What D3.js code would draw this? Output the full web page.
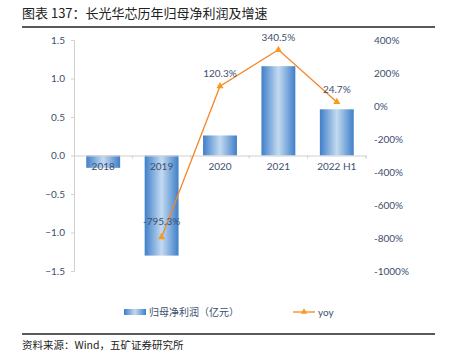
<!DOCTYPE html>
<html><head><meta charset="utf-8">
<script src="https://cdn.jsdelivr.net/npm/d3@7"></script>
<style>body{margin:0;background:#fff}svg{display:block}</style>
</head><body><svg id="c" width="449" height="356"></svg>
<script>
const categories = ["2018","2019","2020","2021","2022 H1"];
const profit = [-0.16,-1.30,0.26,1.16,0.60];
const yoy = [null,-795.3,120.3,340.5,24.7];
const leftTicks = [-1.5,-1.0,-0.5,0.0,0.5,1.0,1.5];
const rightTicks = [-1000,-800,-600,-400,-200,0,200,400];

const svg = d3.select("#c");
const font = "Lato, 'Open Sans', sans-serif";
const txt = "#3d4f6e";
const M = {l:74, r:366, t:40, b:271};

svg.append("text").attr("x",22).attr("y",18).attr("font-family","'Noto Sans CJK SC', sans-serif")
  .attr("font-size",13).attr("fill","#222").text("图表 137：长光华芯历年归母净利润及增速");
svg.append("line").attr("x1",22).attr("x2",435).attr("y1",27).attr("y2",27).attr("stroke","#222").attr("stroke-width",1.3);
svg.append("line").attr("x1",22).attr("x2",435).attr("y1",334).attr("y2",334).attr("stroke","#222").attr("stroke-width",1.3);
svg.append("text").attr("x",22).attr("y",349).attr("font-family","'Noto Sans CJK SC', sans-serif")
  .attr("font-size",10.5).attr("fill","#222").text("资料来源：Wind，五矿证券研究所");

const defs = svg.append("defs");
const g = defs.append("linearGradient").attr("id","bg").attr("x1","0").attr("x2","1").attr("y1","0").attr("y2","0");
g.append("stop").attr("offset","0%").attr("stop-color","#3f7fca");
g.append("stop").attr("offset","50%").attr("stop-color","#c3daf0");
g.append("stop").attr("offset","100%").attr("stop-color","#3f7fca");

const x = d3.scaleBand().domain(categories).range([M.l,M.r]).paddingInner(0.42).paddingOuter(0.21);
const yL = d3.scaleLinear().domain([-1.5,1.5]).range([M.b,M.t]);
const yR = d3.scaleLinear().domain([-1000,400]).range([M.b,M.t]);

// left axis
const la = svg.append("g").attr("transform",`translate(${M.l},0)`)
  .call(d3.axisLeft(yL).tickValues(leftTicks).tickFormat(d3.format(".1f")).tickSize(3).tickPadding(6));
la.select(".domain").attr("stroke","#d0d0d0");
la.selectAll(".tick line").attr("stroke","#d0d0d0");
la.selectAll("text").attr("font-family",font).attr("font-size",10).attr("fill",txt);

// right axis labels (no line)
const ra = svg.append("g").attr("transform",`translate(${374},0)`)
  .call(d3.axisRight(yR).tickValues(rightTicks).tickFormat(d=>d+"%").tickSize(0).tickPadding(0));
ra.select(".domain").remove();
ra.selectAll("text").attr("font-family",font).attr("font-size",10).attr("fill",txt);

// bars
svg.append("g").selectAll("rect").data(categories).join("rect")
  .attr("x",d=>x(d)).attr("width",x.bandwidth())
  .attr("y",(d,i)=>yL(Math.max(0,profit[i])))
  .attr("height",(d,i)=>Math.abs(yL(profit[i])-yL(0)))
  .attr("fill","url(#bg)");

// zero axis
const za = svg.append("g").attr("transform",`translate(0,${yL(0)})`)
  .call(d3.axisBottom(x).tickSize(3).tickSizeOuter(3).tickFormat(""));
za.select(".domain").attr("stroke","#d0d0d0");
za.selectAll(".tick line").attr("stroke","#d0d0d0").attr("transform",`translate(${x.step()/2},0)`);
svg.append("g").selectAll("text").data(categories).join("text")
  .attr("x",d=>x(d)+x.bandwidth()/2).attr("y",yL(0)+14).attr("text-anchor","middle")
  .attr("font-family",font).attr("font-size",10).attr("fill",txt).text(d=>d);

// line
const pts = categories.map((c,i)=>({c,v:yoy[i]})).filter(d=>d.v!==null);
const line = d3.line().x(d=>x(d.c)+x.bandwidth()/2).y(d=>yR(d.v));
svg.append("path").datum(pts).attr("d",line).attr("fill","none").attr("stroke","#f5862a").attr("stroke-width",1.3);
svg.append("g").selectAll("path").data(pts).join("path")
  .attr("d",d3.symbol(d3.symbolTriangle,22))
  .attr("transform",d=>`translate(${x(d.c)+x.bandwidth()/2},${yR(d.v)})`).attr("fill","#f99a1c");
svg.append("g").selectAll("text").data(pts).join("text")
  .attr("x",d=>x(d.c)+x.bandwidth()/2).attr("y",d=>yR(d.v)-(d.v<0?-1:1)*0+ (d.v<0?-12:-9))
  .attr("text-anchor","middle").attr("font-family",font).attr("font-size",10).attr("fill",txt)
  .text(d=>d.v+"%");

// legend
svg.append("rect").attr("x",124).attr("y",309).attr("width",22).attr("height",6).attr("fill","url(#bg)");
svg.append("text").attr("x",149).attr("y",316).attr("font-family","'Noto Sans CJK SC', sans-serif").attr("font-size",10).attr("fill",txt).text("归母净利润（亿元）");
svg.append("line").attr("x1",293).attr("x2",315).attr("y1",312).attr("y2",312).attr("stroke","#f5862a").attr("stroke-width",1.3);
svg.append("path").attr("d",d3.symbol(d3.symbolTriangle,18)).attr("transform","translate(304,312)").attr("fill","#f99a1c");
svg.append("text").attr("x",318).attr("y",316).attr("font-family",font).attr("font-size",10).attr("fill",txt).text("yoy");
</script></body></html>
